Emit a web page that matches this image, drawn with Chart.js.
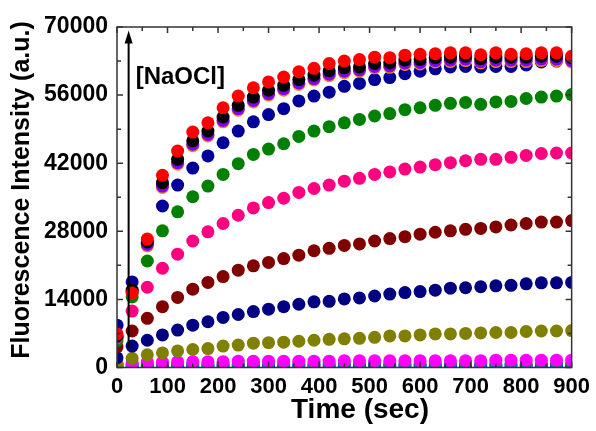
<!DOCTYPE html>
<html>
<head>
<meta charset="utf-8">
<script src="https://cdn.jsdelivr.net/npm/chart.js@4.4.1/dist/chart.umd.min.js"></script>
<style>
  html, body { margin: 0; padding: 0; background: #fff; }
  #wrap { width: 596px; height: 431px; }
</style>
</head>
<body>
<div id="wrap"><canvas id="grafico" width="596" height="431"></canvas></div>
<script>
// tempo (s) de 0 a 900, um ponto a cada 30 s
const tempos = [0, 30, 60, 90, 120, 150, 180, 210, 240, 270, 300, 330, 360, 390, 420, 450,
                480, 510, 540, 570, 600, 630, 660, 690, 720, 750, 780, 810, 840, 870, 900];

const vermelho = [6900, 15300, 26400, 39500, 44500, 48400, 50300, 53400, 55800, 57500, 58700, 59700, 60800, 61500, 62500, 63000,
                  63300, 63800, 63700, 64200, 64400, 64500, 64700, 64700, 64300, 64700, 64400, 64500, 64700, 64700, 64000];
const preto = [6500, 15900, 25800, 38000, 42800, 46600, 48600, 51500, 53900, 55600, 57000, 58000, 59200, 60100, 61000, 61600,
               61800, 62500, 62600, 63200, 63300, 63700, 63800, 64000, 63500, 63800, 63800, 63800, 64000, 64000, 63700];
const roxo = [6300, 15600, 25300, 37300, 42100, 45900, 47900, 50800, 53200, 54900, 56300, 57300, 58500, 59400, 60300, 60900,
              61200, 61900, 62000, 62600, 62700, 63100, 63200, 63400, 62900, 63200, 63200, 63200, 63400, 63400, 63100];
const laranja = [6200, 15400, 25000, 37000, 41800, 45600, 47600, 50500, 52900, 54600, 56000, 57000, 58200, 59100, 60000, 60600,
                 60900, 61600, 61700, 62300, 62400, 62800, 62900, 63100, 62600, 62900, 62900, 62900, 63100, 63100, 62800];
const azulEscuro = [8700, 17600, 25500, 33200, 37500, 41000, 43500, 46200, 48600, 50500, 52000, 53200, 54800, 55800, 56600, 57800,
                    58400, 59200, 59600, 60400, 60900, 61400, 61800, 61900, 61800, 61900, 61900, 62200, 62800, 63000, 63300];
const verde = [5500, 14500, 21900, 28100, 32000, 35100, 37300, 39700, 41900, 43800, 44900, 46000, 47500, 48600, 49500, 50300,
               51000, 51700, 52200, 53000, 53400, 53900, 54300, 54500, 54100, 54600, 54700, 55300, 55600, 55800, 56100];
const rosa = [6000, 11600, 16500, 20400, 23300, 26000, 27900, 29600, 31300, 32800, 33900, 34800, 36000, 36800, 37500, 38300,
              38900, 39700, 40200, 40800, 41200, 41700, 42100, 42500, 42800, 42800, 43200, 43600, 44000, 44100, 44100];
const bordo = [4200, 7500, 10100, 12500, 14400, 16100, 17500, 18700, 20000, 20900, 21600, 22400, 23100, 24000, 24500, 25100,
               25400, 26000, 26500, 26900, 27400, 27800, 28100, 28400, 28600, 28900, 29300, 29600, 29900, 29900, 30200];
const marinho = [2000, 4400, 5600, 6700, 7700, 8700, 9400, 10300, 10900, 11500, 12000, 12500, 13000, 13500, 13600, 14100,
                 14300, 14700, 15100, 15400, 15600, 15900, 16300, 16400, 16600, 16800, 16900, 17200, 17400, 17400, 17500];
const oliva = [500, 1900, 2600, 3000, 3400, 3700, 3900, 4400, 4600, 5000, 5100, 5200, 5400, 5600, 5800, 5900,
               6000, 6200, 6500, 6500, 6700, 6900, 6900, 7000, 7100, 7200, 7200, 7400, 7500, 7500, 7600];
const magenta = [800, 1000, 1100, 1100, 1200, 1200, 1200, 1200, 1300, 1300, 1300, 1300, 1300, 1300, 1300, 1400,
                 1400, 1400, 1400, 1400, 1400, 1400, 1400, 1400, 1400, 1500, 1500, 1500, 1500, 1500, 1500];
const ciano = [500, 600, 600, 600, 700, 700, 700, 700, 700, 700, 700, 700, 700, 700, 800, 800,
               800, 800, 800, 800, 800, 800, 800, 800, 800, 800, 800, 800, 800, 800, 800];
const azul = [200, 300, 300, 300, 300, 300, 300, 300, 300, 300, 300, 300, 300, 300, 300, 300,
              300, 300, 300, 300, 300, 300, 300, 300, 300, 300, 300, 300, 300, 300, 300];

const ticksX = [0, 100, 200, 300, 400, 500, 600, 700, 800, 900];
const ticksY = [0, 14000, 28000, 42000, 56000, 70000];

// seta [NaOCl] em unidades de dados
const setaX = 23;
const setaY = [4000, 69300];

// dataset 0 fica por cima
const series = [
    [vermelho, '#ff0000'],
    [preto, '#000000'],
    [roxo, '#8000ff'],
    [laranja, '#ff8000'],
    [azulEscuro, '#000099'],
    [verde, '#008000'],
    [rosa, '#ff0080'],
    [bordo, '#800000'],
    [marinho, '#000080'],
    [oliva, '#808000'],
    [magenta, '#ff00ff'],
    [ciano, '#008080'],
    [azul, '#0000ff']
];

const fonte = 'Liberation Sans, Arial, sans-serif';

const molduraPlugin = {
    id: 'moldura',
    afterDatasetsDraw(chart) {
        const { ctx, chartArea: a, scales: { x, y } } = chart;
        ctx.save();
        ctx.strokeStyle = '#333';
        ctx.lineWidth = 1.5;
        ctx.strokeRect(a.left, a.top, a.right - a.left, a.bottom - a.top);
        ctx.beginPath();
        for (let t = 0; t <= 900; t += 50) {
            const px = x.getPixelForValue(t);
            const len = t % 100 === 0 ? 6 : 4;
            ctx.moveTo(px, a.bottom); ctx.lineTo(px, a.bottom - len);
            ctx.moveTo(px, a.top); ctx.lineTo(px, a.top + len);
        }
        for (let v = 0; v <= 70000; v += 7000) {
            const py = y.getPixelForValue(v);
            const len = v % 14000 === 0 ? 6 : 4;
            ctx.moveTo(a.left, py); ctx.lineTo(a.left + len, py);
            ctx.moveTo(a.right, py); ctx.lineTo(a.right - len, py);
        }
        ctx.stroke();

        // seta
        const sx = x.getPixelForValue(setaX);
        const y0 = y.getPixelForValue(setaY[0]);
        const y1 = y.getPixelForValue(setaY[1]);
        ctx.strokeStyle = '#000';
        ctx.fillStyle = '#000';
        ctx.lineWidth = 2;
        ctx.beginPath();
        ctx.moveTo(sx, y0);
        ctx.lineTo(sx, y1 + 10);
        ctx.stroke();
        ctx.beginPath();
        ctx.moveTo(sx, y1);
        ctx.lineTo(sx - 4, y1 + 13);
        ctx.lineTo(sx + 4, y1 + 13);
        ctx.closePath();
        ctx.fill();

        ctx.font = 'bold 24px ' + fonte;
        ctx.textAlign = 'left';
        ctx.textBaseline = 'alphabetic';
        ctx.fillText('[NaOCl]', x.getPixelForValue(37), y.getPixelForValue(58200));

        // títulos dos eixos
        ctx.font = 'bold 28px ' + fonte;
        ctx.textAlign = 'center';
        ctx.textBaseline = 'middle';
        ctx.fillText('Time (sec)', 360, 410);

        ctx.translate(22, 190);
        ctx.rotate(-Math.PI / 2);
        ctx.font = 'bold 25px ' + fonte;
        ctx.fillText('Fluorescence Intensity (a.u.)', 0, 0);
        ctx.restore();
    }
};

new Chart(document.getElementById('grafico').getContext('2d'), {
    type: 'scatter',
    data: {
        datasets: series.map(([vals, cor]) => ({
            data: tempos.map((t, i) => ({ x: t, y: vals[i] })),
            backgroundColor: cor,
            borderColor: cor,
            borderWidth: 0,
            pointRadius: 6.5,
            pointHoverRadius: 6.5
        }))
    },
    options: {
        responsive: false,
        animation: false,
        devicePixelRatio: 1,
        layout: { padding: { left: 0, right: 22, top: 27, bottom: 0 } },
        plugins: { legend: { display: false }, tooltip: { enabled: false } },
        scales: {
            x: {
                type: 'linear',
                min: 0,
                max: 900,
                afterBuildTicks: s => { s.ticks = ticksX.map(v => ({ value: v })); },
                afterFit: s => { s.height = 63.5; },
                grid: { display: false, drawTicks: false },
                border: { display: false },
                ticks: {
                    padding: 6,
                    color: '#000',
                    maxRotation: 0,
                    callback: v => String(v),
                    font: { family: fonte, size: 22, weight: 'bold' }
                }
            },
            y: {
                type: 'linear',
                min: 0,
                max: 70000,
                afterBuildTicks: s => { s.ticks = ticksY.map(v => ({ value: v })); },
                afterFit: s => { s.width = 117; },
                grid: { display: false, drawTicks: false },
                border: { display: false },
                ticks: {
                    padding: 9,
                    color: '#000',
                    callback: v => String(v),
                    font: { family: fonte, size: 23, weight: 'bold' }
                }
            }
        }
    },
    plugins: [molduraPlugin]
});
</script>
</body>
</html>
